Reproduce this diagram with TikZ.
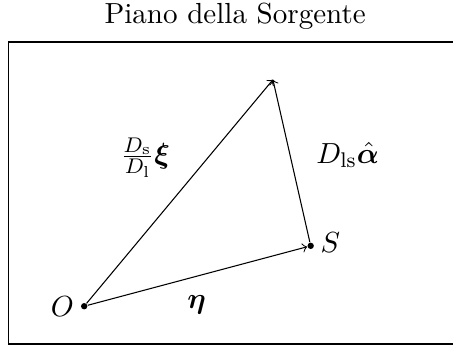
\documentclass[tikz,border=0pt,11pt]{standalone}
\usepackage{amsmath}
\usepackage{bm}
\begin{document}
\begin{tikzpicture}[
  frame/.style={draw, line width=0.6pt},
  vec/.style={->, line width=0.4pt},
  pt/.style={circle, fill, inner sep=0pt, minimum size=2.4pt},
  lbl/.style={inner sep=1pt}
]
\useasboundingbox (-0.115,-0.066) rectangle (5.885,4.556);
\draw[frame] (0,0) rectangle (6,4);
\node[lbl] (title) at (3,4.34) {Piano della Sorgente};
\node[pt] (O) at (1,0.5) {};
\node[pt] (S) at (4,1.3) {};
\coordinate (A) at (3.5,3.5);
\draw[vec] (O) -- (S);
\draw[vec] (O) -- (A);
\draw[vec] (S) -- (A);
\node[lbl] (Ol) at (0.71,0.49) {$O$};
\node[lbl] (Sl) at (4.26,1.34) {$S$};
\node[lbl] (eta) at (2.49,0.52) {$\bm{\eta}$};
\node[lbl] (xi) at (1.81,2.47) {$\frac{D_\mathrm{s}}{D_\mathrm{l}}\bm{\xi}$};
\node[lbl] (al) at (4.49,2.5) {$D_\mathrm{ls}\hat{\bm{\alpha}}$};
\end{tikzpicture}
\end{document}
